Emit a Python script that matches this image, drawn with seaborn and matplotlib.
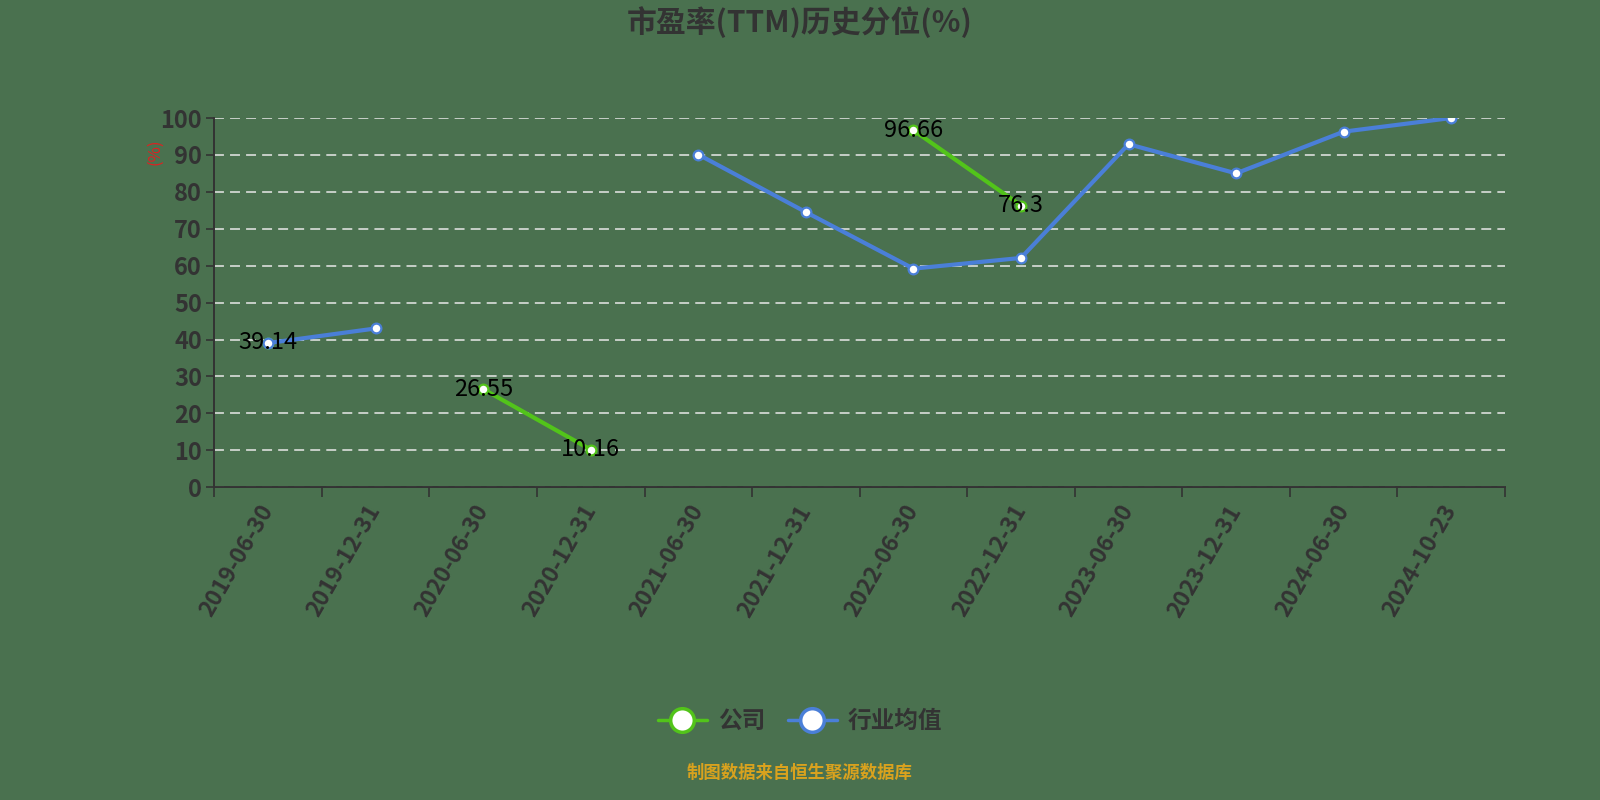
import numpy as np
import pandas as pd
import matplotlib
matplotlib.use("Agg")
import matplotlib.pyplot as plt
from matplotlib.lines import Line2D
import seaborn as sns

dates = ["2019-06-30", "2019-12-31", "2020-06-30", "2020-12-31", "2021-06-30", "2021-12-31",
         "2022-06-30", "2022-12-31", "2023-06-30", "2023-12-31", "2024-06-30", "2024-10-23"]
company = [39.14, np.nan, 26.55, 10.16, np.nan, np.nan, 96.66, 76.3, np.nan, np.nan, np.nan, np.nan]
industry = [39.05, 43.0, np.nan, np.nan, 90.1, 74.5, 59.2, 62.1, 92.9, 85.0, 96.3, 100.0]
yticks = [0, 10, 20, 30, 40, 50, 60, 70, 80, 90, 100]

BG = "#4a714f"
TXT = "#333333"
GREEN = "#52c41a"
BLUE = "#4a7fd8"

sns.set_theme(style="white")
plt.rcParams["font.family"] = ["Noto Sans CJK SC", "DejaVu Sans"]
plt.rcParams["axes.unicode_minus"] = False


def segments(vals):
    seg, cur, prev_nan = [], 0, True
    for v in vals:
        if np.isnan(v):
            seg.append(-1)
            prev_nan = True
        else:
            if prev_nan:
                cur += 1
            seg.append(cur)
            prev_nan = False
    return seg


def frame(vals):
    df = pd.DataFrame({"x": np.arange(len(dates)), "y": vals, "seg": segments(vals)})
    return df[df["seg"] >= 0]


fig = plt.figure(figsize=(16, 8), dpi=100, facecolor=BG)
ax = fig.add_axes([0.134, 0.391, 0.8066, 0.4615])
ax.set_facecolor(BG)

dfi = frame(industry)
dfc = frame(company)
sns.lineplot(data=dfi, x="x", y="y", units="seg", estimator=None, sort=False, ax=ax,
             color=BLUE, linewidth=3.0, marker="o", markersize=7,
             markerfacecolor="white", markeredgecolor=BLUE, markeredgewidth=1.6, zorder=3)
sns.lineplot(data=dfc, x="x", y="y", units="seg", estimator=None, sort=False, ax=ax,
             color=GREEN, linewidth=3.0, marker="o", markersize=7,
             markerfacecolor="white", markeredgecolor=GREEN, markeredgewidth=1.6, zorder=2)

for x, y in zip(dfc["x"], dfc["y"]):
    ax.text(x, y, f"{y:g}", ha="center", va="center", fontsize=17, color="black", zorder=5)

ax.set_xlim(-0.5, len(dates) - 0.5)
ax.set_ylim(0, 100)
ax.set_yticks(yticks)
ax.set_yticklabels([str(t) for t in yticks], fontsize=17, color=TXT, fontweight="bold")
ax.set_xticks(np.arange(len(dates) + 1) - 0.5)
ax.set_xticklabels([])
ax.set_xticks(np.arange(len(dates)), minor=True)
ax.set_xticklabels(dates, minor=True, rotation=60, ha="right", va="center",
                   rotation_mode="anchor", fontsize=16.5, color=TXT, fontweight="bold")
ax.tick_params(axis="x", which="major", length=7, width=1.2, color=TXT, direction="out", bottom=True)
ax.tick_params(axis="x", which="minor", length=0, pad=14)
ax.tick_params(axis="y", length=6, width=1.2, color=TXT, left=True, pad=3)

ax.grid(axis="y", color="#e8e8e8", linestyle=(0, (6.5, 4)), linewidth=1.1)
ax.grid(axis="x", visible=False)
for s in ["top", "right"]:
    ax.spines[s].set_visible(False)
for s in ["left", "bottom"]:
    ax.spines[s].set_color(TXT)
    ax.spines[s].set_linewidth(1.4)
ax.set_xlabel("")
ax.set_ylabel("")

fig.text(0.097, 0.81, "(%)", rotation=90, color="#e02020", fontsize=12, ha="center", va="center")
fig.text(0.5, 0.972, "市盈率(TTM)历史分位(%)", ha="center", va="center", fontsize=21.5,
         fontweight="bold", color=TXT)
fig.text(0.5, 0.034, "制图数据来自恒生聚源数据库", ha="center", va="center", fontsize=12.5,
         fontweight="bold", color="#d9a21e")

handles = [
    Line2D([0], [0], color=GREEN, linewidth=2.5, marker="o", markersize=17,
           markerfacecolor="white", markeredgecolor=GREEN, markeredgewidth=2.5),
    Line2D([0], [0], color=BLUE, linewidth=2.5, marker="o", markersize=17,
           markerfacecolor="white", markeredgecolor=BLUE, markeredgewidth=2.5),
]
leg = fig.legend(handles, ["公司", "行业均值"], loc="center", bbox_to_anchor=(0.5, 0.099),
                 ncol=2, frameon=False, fontsize=17, handlelength=2.1, columnspacing=0.95,
                 handletextpad=0.45)
for t in leg.get_texts():
    t.set_color(TXT)
    t.set_fontweight("bold")

fig.savefig("out.png", dpi=100, facecolor=BG)
